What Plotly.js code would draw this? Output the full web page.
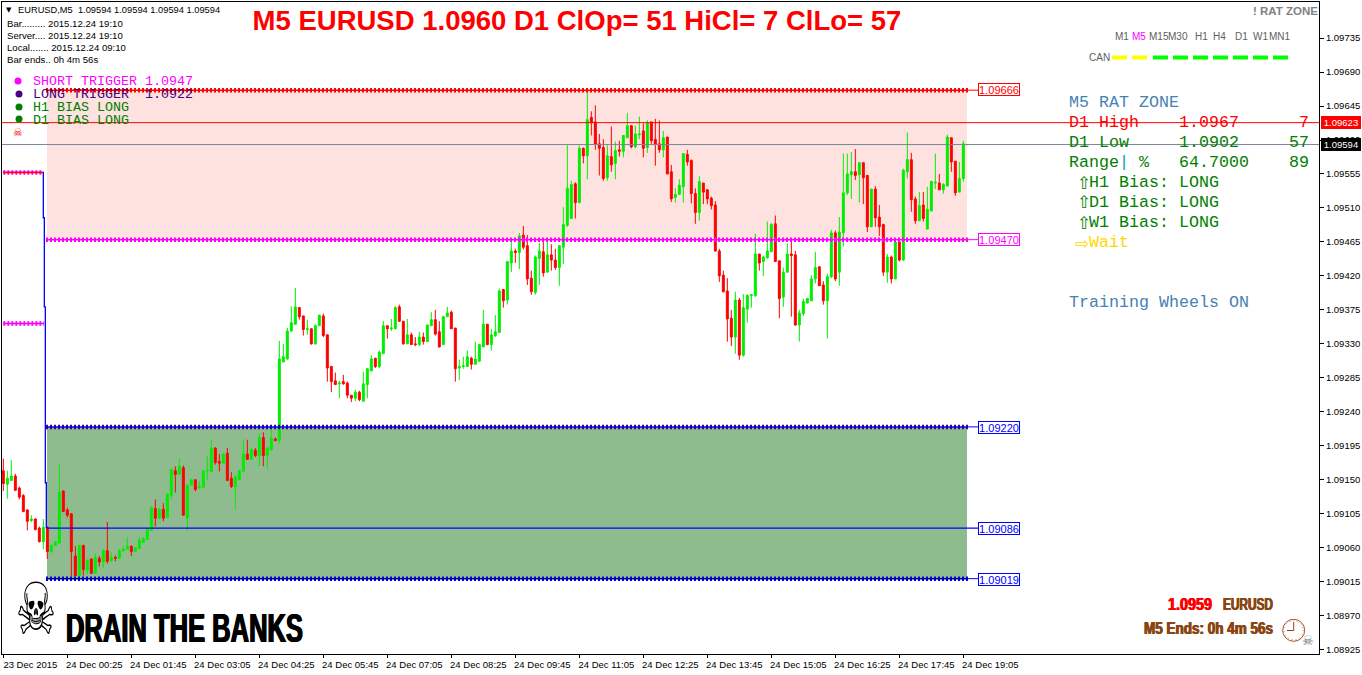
<!DOCTYPE html>
<html><head><meta charset="utf-8">
<script src="https://cdn.plot.ly/plotly-3.0.1.min.js"></script>
<style>html,body{margin:0;padding:0;background:#fff}</style>
</head><body><div id="chart" style="width:1362px;height:675px"></div>
<script>
const open_=[1.09162,1.09144,1.09149,1.09155,1.09139,1.09129,1.09110,1.09096,1.09098,1.09086,
1.09068,1.09087,1.09055,1.09063,1.09066,1.09135,1.09110,1.09105,1.09049,1.09023,
1.09063,1.09030,1.09045,1.09026,1.09046,1.09041,1.09056,1.09043,1.09047,1.09046,
1.09056,1.09058,1.09062,1.09055,1.09059,1.09067,1.09071,1.09083,1.09112,1.09099,
1.09111,1.09100,1.09129,1.09162,1.09157,1.09166,1.09100,1.09143,1.09150,1.09139,
1.09140,1.09162,1.09161,1.09192,1.09174,1.09172,1.09185,1.09152,1.09141,1.09150,
1.09161,1.09184,1.09177,1.09189,1.09182,1.09206,1.09182,1.09190,1.09204,1.09202,
1.09306,1.09310,1.09347,1.09356,1.09378,1.09367,1.09349,1.09350,1.09330,1.09354,
1.09367,1.09342,1.09300,1.09281,1.09277,1.09280,1.09278,1.09262,1.09258,1.09266,
1.09254,1.09276,1.09294,1.09311,1.09300,1.09317,1.09354,1.09350,1.09350,1.09379,
1.09360,1.09330,1.09342,1.09330,1.09329,1.09339,1.09333,1.09354,1.09362,1.09346,
1.09329,1.09366,1.09372,1.09351,1.09298,1.09300,1.09300,1.09311,1.09303,1.09307,
1.09326,1.09356,1.09329,1.09341,1.09345,1.09402,1.09388,1.09437,1.09453,1.09451,
1.09474,1.09460,1.09417,1.09398,1.09443,1.09452,1.09425,1.09448,1.09441,1.09431,
1.09458,1.09487,1.09496,1.09542,1.09517,1.09589,1.09579,1.09630,1.09624,1.09595,
1.09590,1.09550,1.09578,1.09569,1.09587,1.09585,1.09603,1.09619,1.09591,1.09607,
1.09612,1.09590,1.09624,1.09601,1.09595,1.09587,1.09604,1.09558,1.09524,1.09528,
1.09538,1.09581,1.09573,1.09529,1.09504,1.09543,1.09534,1.09523,1.09514,1.09453,
1.09421,1.09400,1.09364,1.09339,1.09388,1.09315,1.09376,1.09394,1.09394,1.09449,
1.09439,1.09444,1.09452,1.09489,1.09440,1.09392,1.09425,1.09449,1.09448,1.09355,
1.09370,1.09384,1.09387,1.09416,1.09432,1.09408,1.09387,1.09419,1.09477,1.09425,
1.09477,1.09530,1.09554,1.09558,1.09554,1.09570,1.09553,1.09485,1.09535,1.09498,
1.09488,1.09425,1.09445,1.09416,1.09465,1.09441,1.09558,1.09574,1.09522,1.09493,
1.09514,1.09482,1.09506,1.09543,1.09543,1.09534,1.09539,1.09603,1.09572,1.09531,1.09549,1.09594];
const high=[1.09178,1.09162,1.09176,1.09158,1.09141,1.09131,1.09111,1.09103,1.09099,1.09088,
1.09098,1.09087,1.09064,1.09068,1.09170,1.09136,1.09113,1.09105,1.09062,1.09063,
1.09064,1.09045,1.09046,1.09052,1.09049,1.09058,1.09094,1.09054,1.09050,1.09058,
1.09062,1.09074,1.09063,1.09060,1.09074,1.09074,1.09086,1.09115,1.09124,1.09113,
1.09119,1.09132,1.09164,1.09168,1.09178,1.09169,1.09143,1.09150,1.09150,1.09148,
1.09162,1.09182,1.09203,1.09193,1.09184,1.09185,1.09192,1.09160,1.09156,1.09162,
1.09203,1.09203,1.09192,1.09192,1.09211,1.09213,1.09193,1.09218,1.09206,1.09334,
1.09330,1.09351,1.09380,1.09404,1.09379,1.09367,1.09362,1.09350,1.09356,1.09368,
1.09370,1.09342,1.09301,1.09292,1.09281,1.09289,1.09280,1.09262,1.09269,1.09268,
1.09293,1.09298,1.09315,1.09311,1.09321,1.09360,1.09354,1.09363,1.09380,1.09382,
1.09360,1.09363,1.09345,1.09339,1.09346,1.09345,1.09355,1.09372,1.09375,1.09360,
1.09366,1.09379,1.09374,1.09351,1.09309,1.09313,1.09321,1.09313,1.09333,1.09329,
1.09375,1.09356,1.09350,1.09368,1.09403,1.09402,1.09439,1.09468,1.09456,1.09477,
1.09486,1.09474,1.09427,1.09447,1.09464,1.09465,1.09466,1.09462,1.09456,1.09460,
1.09511,1.09593,1.09546,1.09544,1.09593,1.09590,1.09664,1.09638,1.09646,1.09608,
1.09601,1.09593,1.09618,1.09598,1.09599,1.09606,1.09636,1.09619,1.09619,1.09631,
1.09622,1.09626,1.09624,1.09628,1.09626,1.09612,1.09604,1.09567,1.09536,1.09548,
1.09582,1.09587,1.09574,1.09536,1.09552,1.09543,1.09535,1.09525,1.09519,1.09456,
1.09427,1.09417,1.09375,1.09399,1.09391,1.09396,1.09396,1.09396,1.09476,1.09449,
1.09447,1.09492,1.09490,1.09500,1.09440,1.09431,1.09463,1.09466,1.09453,1.09375,
1.09390,1.09391,1.09421,1.09452,1.09433,1.09413,1.09423,1.09481,1.09480,1.09498,
1.09582,1.09582,1.09584,1.09588,1.09570,1.09570,1.09554,1.09535,1.09539,1.09514,
1.09489,1.09449,1.09447,1.09466,1.09466,1.09562,1.09610,1.09583,1.09525,1.09531,
1.09531,1.09538,1.09546,1.09582,1.09555,1.09543,1.09607,1.09603,1.09572,1.09571,1.09599,1.09594];
const low=[1.09135,1.09125,1.09149,1.09136,1.09124,1.09107,1.09083,1.09094,1.09083,1.09067,
1.09058,1.09045,1.09053,1.09063,1.09066,1.09107,1.09100,1.09022,1.09022,1.09022,
1.09023,1.09025,1.09026,1.09026,1.09035,1.09033,1.09039,1.09041,1.09042,1.09045,
1.09055,1.09058,1.09049,1.09055,1.09059,1.09067,1.09071,1.09083,1.09088,1.09098,
1.09095,1.09100,1.09124,1.09133,1.09157,1.09103,1.09082,1.09143,1.09135,1.09139,
1.09140,1.09150,1.09161,1.09170,1.09161,1.09172,1.09149,1.09139,1.09111,1.09150,
1.09161,1.09177,1.09177,1.09180,1.09168,1.09168,1.09165,1.09188,1.09201,1.09198,
1.09306,1.09309,1.09346,1.09356,1.09362,1.09341,1.09342,1.09329,1.09329,1.09354,
1.09339,1.09280,1.09266,1.09276,1.09258,1.09276,1.09258,1.09253,1.09254,1.09254,
1.09254,1.09258,1.09294,1.09298,1.09298,1.09317,1.09337,1.09347,1.09350,1.09359,
1.09329,1.09330,1.09329,1.09327,1.09327,1.09329,1.09333,1.09354,1.09341,1.09325,
1.09329,1.09366,1.09350,1.09280,1.09282,1.09297,1.09300,1.09296,1.09303,1.09307,
1.09326,1.09329,1.09321,1.09339,1.09345,1.09378,1.09382,1.09425,1.09437,1.09429,
1.09455,1.09408,1.09395,1.09395,1.09408,1.09419,1.09425,1.09427,1.09428,1.09407,
1.09436,1.09485,1.09496,1.09496,1.09517,1.09569,1.09548,1.09606,1.09587,1.09553,
1.09546,1.09546,1.09558,1.09548,1.09578,1.09577,1.09603,1.09589,1.09589,1.09601,
1.09577,1.09583,1.09595,1.09566,1.09583,1.09577,1.09555,1.09518,1.09517,1.09528,
1.09517,1.09566,1.09516,1.09489,1.09493,1.09515,1.09515,1.09508,1.09452,1.09412,
1.09398,1.09333,1.09327,1.09317,1.09309,1.09313,1.09358,1.09378,1.09392,1.09427,
1.09420,1.09443,1.09452,1.09439,1.09364,1.09379,1.09424,1.09366,1.09354,1.09333,
1.09367,1.09384,1.09387,1.09410,1.09407,1.09382,1.09337,1.09417,1.09413,1.09407,
1.09459,1.09527,1.09522,1.09547,1.09517,1.09515,1.09478,1.09485,1.09485,1.09473,
1.09420,1.09411,1.09410,1.09416,1.09439,1.09440,1.09549,1.09505,1.09489,1.09493,
1.09492,1.09482,1.09506,1.09535,1.09534,1.09529,1.09539,1.09558,1.09526,1.09531,1.09545,1.09594];
const close_=[1.09145,1.09152,1.09155,1.09136,1.09127,1.09108,1.09095,1.09098,1.09084,1.09068,
1.09087,1.09055,1.09063,1.09068,1.09133,1.09108,1.09103,1.09055,1.09023,1.09063,
1.09031,1.09043,1.09026,1.09047,1.09041,1.09056,1.09042,1.09047,1.09046,1.09056,
1.09058,1.09062,1.09055,1.09060,1.09070,1.09072,1.09084,1.09113,1.09099,1.09111,
1.09099,1.09131,1.09164,1.09157,1.09168,1.09103,1.09143,1.09150,1.09137,1.09141,
1.09162,1.09162,1.09192,1.09173,1.09172,1.09184,1.09149,1.09141,1.09153,1.09162,
1.09184,1.09177,1.09190,1.09182,1.09206,1.09182,1.09192,1.09205,1.09202,1.09310,
1.09313,1.09347,1.09358,1.09379,1.09366,1.09349,1.09350,1.09330,1.09354,1.09368,
1.09341,1.09298,1.09280,1.09276,1.09278,1.09277,1.09262,1.09258,1.09266,1.09256,
1.09277,1.09297,1.09310,1.09300,1.09319,1.09354,1.09350,1.09351,1.09378,1.09360,
1.09330,1.09342,1.09329,1.09329,1.09339,1.09333,1.09355,1.09362,1.09343,1.09326,
1.09366,1.09371,1.09350,1.09297,1.09300,1.09301,1.09313,1.09303,1.09310,1.09329,
1.09356,1.09329,1.09342,1.09346,1.09400,1.09387,1.09439,1.09453,1.09451,1.09473,
1.09458,1.09416,1.09399,1.09445,1.09453,1.09424,1.09448,1.09441,1.09431,1.09460,
1.09488,1.09536,1.09541,1.09517,1.09589,1.09579,1.09627,1.09623,1.09594,1.09589,
1.09549,1.09579,1.09567,1.09586,1.09585,1.09606,1.09619,1.09591,1.09608,1.09608,
1.09589,1.09623,1.09599,1.09594,1.09587,1.09603,1.09555,1.09522,1.09528,1.09540,
1.09582,1.09571,1.09529,1.09504,1.09545,1.09531,1.09522,1.09513,1.09453,1.09420,
1.09399,1.09363,1.09339,1.09388,1.09315,1.09378,1.09394,1.09395,1.09449,1.09437,
1.09445,1.09453,1.09488,1.09439,1.09390,1.09425,1.09449,1.09447,1.09355,1.09371,
1.09386,1.09390,1.09416,1.09431,1.09407,1.09387,1.09419,1.09477,1.09416,1.09478,
1.09530,1.09555,1.09558,1.09553,1.09570,1.09550,1.09485,1.09535,1.09497,1.09485,
1.09425,1.09445,1.09416,1.09465,1.09441,1.09560,1.09574,1.09521,1.09493,1.09513,
1.09496,1.09508,1.09545,1.09544,1.09534,1.09541,1.09604,1.09571,1.09530,1.09549,1.09595,1.09594];

const xTickBars=[0,16,32,48,64,80,96,112,128,144,160,176,192,208,224,240];
const xTickLabels=['23 Dec 2015','24 Dec 00:25','24 Dec 01:45','24 Dec 03:05','24 Dec 04:25','24 Dec 05:45','24 Dec 07:05','24 Dec 08:25','24 Dec 09:45','24 Dec 11:05','24 Dec 12:25','24 Dec 13:45','24 Dec 15:05','24 Dec 16:25','24 Dec 17:45','24 Dec 19:05'];
const yTicks=[1.09735,1.09690,1.09645,1.09600,1.09555,1.09510,1.09465,1.09420,1.09375,1.09330,1.09285,1.09240,1.09195,1.09150,1.09105,1.09060,1.09015,1.08970,1.08925];

const zoneShort=[1.09468,1.09666];
const zoneLong=[1.09019,1.09220];
const levelHigh=1.09666, levelShort=1.09468, levelLong=1.09220, levelLow=1.09019, levelMid=1.09086;
const dayHigh=1.09623, lastPrice=1.09594;
const priorA=1.09557, priorB=1.09357;
const stepBars=[0,10,10,10.25,10.25,10.5,10.5,10.75,10.75,11,11,243.8];
const stepPrice=[1.09557,1.09557,1.09497,1.09497,1.09379,1.09379,1.09146,1.09146,1.09087,1.09087,1.09086,1.09086];

const bars=open_.map((_,i)=>i);
const L=2,T=2,R=1319,B=654;
const W=R-L,H=B-T;
const px=x=>(x-L)/W, py=y=>(B-y)/H;
const barOf=x=>(x-3.33)/4;
const xStart=barOf(46), xEnd=barOf(968), xConn=barOf(979), xRectA=barOf(47), xRectB=barOf(967);
const xLeft=barOf(L), xRight=barOf(R);

function dotted(x0,x1,y,col,lineCol,lw){
  return [
   {type:'scatter',mode:'lines',x:[x0,x1],y:[y,y],line:{color:col,width:4.5,dash:'2px,2px'},hoverinfo:'skip'},
   {type:'scatter',mode:'lines',x:[x0,x1],y:[y,y],line:{color:lineCol||col,width:lw||1.5},hoverinfo:'skip'}
  ];
}
function thin(x0,x1,y,col){return {type:'scatter',mode:'lines',x:[x0,x1],y:[y,y],line:{color:col,width:1},hoverinfo:'skip'};}

const traces=[
 {type:'candlestick',x:bars,open:open_,high:high,low:low,close:close_,
  increasing:{line:{color:'#00ee00',width:1},fillcolor:'#00ee00'},
  decreasing:{line:{color:'#ff0000',width:1},fillcolor:'#ff0000'},whiskerwidth:0,hoverinfo:'skip'},
 ...dotted(0,barOf(44),priorB,'#ff00ff'),
 {type:'scatter',mode:'lines',x:stepBars,y:stepPrice,line:{color:'#0000ff',width:1.3},hoverinfo:'skip'},
 ...dotted(0,barOf(43),priorA,'#ff00ff','#ff0000',1.5),
 ...dotted(xStart,xEnd,levelHigh,'#ff0000'),
 thin(xEnd,xConn,levelHigh,'#ff0000'),
 ...dotted(xStart,xEnd,levelShort,'#ff00ff'),
 thin(xEnd,xConn,levelShort,'#ff00ff'),
 ...dotted(xStart,xEnd,levelLong,'#4b0082','#0000ff'),
 thin(xEnd,xConn,levelLong,'#0000ff'),
 ...dotted(xStart,xEnd,levelLow,'#0000ff','#00008b'),
 thin(xEnd,xConn,levelLow,'#0000ff'),
 thin(xLeft,xRight,dayHigh,'#ff0000'),
 thin(xLeft,xRight,lastPrice,'#778899')
];

const ui='"Liberation Sans",Arial,sans-serif', mono='"Liberation Mono",monospace', deja='"DejaVu Sans",sans-serif';
function T_(text,x,y,o={}){
  const a={text,x:px(x),y:py(y),xref:'paper',yref:'paper',xanchor:o.a||'left',align:o.a||'left',yanchor:'middle',showarrow:false,borderpad:0,borderwidth:0,
    font:{family:o.f||ui,size:o.s||10,color:o.c||'#000',weight:o.w,shadow:o.sh}};
  if(o.box) a.width=o.box;
  return a;
}
function tag(text,y,col,xc){
  return {text,x:px(xc),y:py(y),xref:'paper',yref:'paper',xanchor:'center',yanchor:'middle',showarrow:false,
    bgcolor:'#fff',bordercolor:col,borderwidth:1,borderpad:0,width:40,height:11,font:{family:ui,size:11,color:col}};
}
function flag(text,y,bg){
  return {text,x:px(1341),y:py(y),xref:'paper',yref:'paper',xanchor:'center',yanchor:'middle',showarrow:false,
    bgcolor:bg,borderpad:0,borderwidth:0,width:40,height:13,font:{family:ui,size:9.5,color:'#fff'}};
}
const heavy='1px 0 0 #000,-1px 0 0 #000';
const brownS='0.6px 0 0 #8b4513,-0.6px 0 0 #8b4513';
const redS='0.6px 0 0 #f00,-0.6px 0 0 #f00';
const annotations=[
 T_('▼',6,10,{s:7,f:deja}),
 T_('EURUSD,M5&nbsp;&nbsp;1.09594 1.09594 1.09594 1.09594',18,10.5,{s:9.3}),
 T_('Bar......... 2015.12.24 19:10',7,23,{s:9.6}),
 T_('Server.... 2015.12.24 19:10',7,35.5,{s:9.6}),
 T_('Local....... 2015.12.24 09:10',7,47.5,{s:9.6}),
 T_('Bar ends.. 0h 4m 56s',7,59.5,{s:9.6}),
 T_('SHORT TRIGGER 1.0947',33,82,{f:mono,s:13.33,c:'#ff00ff'}),
 T_('LONG TRIGGER&nbsp;&nbsp;1.0922',33,95,{f:mono,s:13.33,c:'#4b0082'}),
 T_('H1 BIAS LONG',33,108,{f:mono,s:13.33,c:'#008000'}),
 T_('D1 BIAS LONG',33,121,{f:mono,s:13.33,c:'#008000'}),
 T_('☠',18,133,{f:deja,s:11,c:'#ff0000',a:'center'}),
 T_('☠',36,609,{f:deja,s:72,c:'#000',a:'center',box:44}),
 T_('DRAIN THE BANKS',66,628,{s:40,w:700,sh:heavy,box:240}),
 T_('! RAT ZONE',1318,11,{s:11.5,w:700,c:'#808080',a:'right'}),
 T_('M1',1121.5,36,{s:10,c:'#606060',a:'center'}),
 T_('M5',1138.5,36,{s:10,c:'#ff00ff',a:'center'}),
 T_('M15',1159,36,{s:10,c:'#606060',a:'center'}),
 T_('M30',1178,36,{s:10,c:'#606060',a:'center'}),
 T_('H1',1201,36,{s:10,c:'#606060',a:'center'}),
 T_('H4',1219,36,{s:10,c:'#606060',a:'center'}),
 T_('D1',1241,36,{s:10,c:'#606060',a:'center'}),
 T_('W1',1260.5,36,{s:10,c:'#606060',a:'center'}),
 T_('MN1',1280,36,{s:10,c:'#606060',a:'center'}),
 T_('CAN',1089,58,{s:10,c:'#606060'}),
 T_('M5 RAT ZONE',1069,102.5,{f:mono,s:16.67,c:'#4682b4'}),
 T_('D1 High&nbsp;&nbsp;&nbsp;&nbsp;1.0967&nbsp;&nbsp;&nbsp;&nbsp;&nbsp;&nbsp;7',1069,122.5,{f:mono,s:16.67,c:'#ff0000'}),
 T_('D1 Low&nbsp;&nbsp;&nbsp;&nbsp;&nbsp;1.0902&nbsp;&nbsp;&nbsp;&nbsp;&nbsp;57',1069,142.5,{f:mono,s:16.67,c:'#008000'}),
 T_('Range<span style="color:#00a0c0">|</span> %&nbsp;&nbsp;&nbsp;64.7000&nbsp;&nbsp;&nbsp;&nbsp;89',1069,162.5,{f:mono,s:16.67,c:'#008000'}),
 T_('⇧',1077,182.5,{f:deja,s:17,c:'#008000'}),
 T_('H1 Bias: LONG',1089,182.5,{f:mono,s:16.67,c:'#008000'}),
 T_('⇧',1077,202.5,{f:deja,s:17,c:'#008000'}),
 T_('D1 Bias: LONG',1089,202.5,{f:mono,s:16.67,c:'#008000'}),
 T_('⇧',1077,222.5,{f:deja,s:17,c:'#008000'}),
 T_('W1 Bias: LONG',1089,222.5,{f:mono,s:16.67,c:'#008000'}),
 T_('⇨',1075,242.5,{f:deja,s:17,c:'#ffd700'}),
 T_('Wait',1089,242.5,{f:mono,s:16.67,c:'#ffd700'}),
 T_('Training Wheels ON',1069,302.5,{f:mono,s:16.67,c:'#4682b4'}),
 T_('1.0959',1168,604,{s:17,w:700,c:'#ff0000',sh:redS,box:46}),
 T_('EURUSD',1223,604,{s:17,w:700,c:'#8b4513',sh:brownS,box:52}),
 T_('M5 Ends: 0h 4m 56s',1144,628,{s:17,w:700,c:'#8b4513',sh:brownS,box:131}),
 T_('☠',1308,640,{f:deja,s:13,c:'#707070',a:'center'}),
 tag('1.09666',89.5,'#ff0000',999),
 tag('1.09470',239.5,'#ff00ff',999),
 tag('1.09220',427.5,'#0000ff',999),
 tag('1.09086',528.5,'#0000ff',999),
 tag('1.09019',579.5,'#0000ff',999),
 flag('1.09623',122.5,'#ff0000'),
 flag('1.09594',144.5,'#000000')
];

const dashX=[1112,1132,1153,1173,1193,1213,1233,1253,1273];
const dashCol=['#ffff00','#ffff00','#00ff00','#00ff00','#00ff00','#00ff00','#00ff00','#00ff00','#00ff00'];
const shapes=[
 {type:'rect',xref:'x',yref:'y',x0:xRectA,x1:xRectB,y0:zoneShort[0],y1:zoneShort[1],fillcolor:'#fee2df',line:{width:0},layer:'below'},
 {type:'rect',xref:'x',yref:'y',x0:xRectA,x1:xRectB,y0:zoneLong[0],y1:zoneLong[1],fillcolor:'#8fbc8f',line:{width:0},layer:'below'}
];
function circle(cx,cy,r,fill,line,lw,dash){
 return {type:'circle',xref:'paper',yref:'paper',x0:px(cx-r),x1:px(cx+r),y0:py(cy+r),y1:py(cy-r),fillcolor:fill,line:{color:line,width:lw||0,dash:dash||'solid'}};
}
function seg(x0,y0,x1,y1,c,w,dash){
 return {type:'line',xref:'paper',yref:'paper',x0:px(x0),x1:px(x1),y0:py(y0),y1:py(y1),line:{color:c,width:w,dash:dash||'solid'}};
}
shapes.push(circle(18,81,3.5,'#ff00ff'),circle(19,94,3.5,'#4b0082'),circle(19,107,3.5,'#008000'),circle(19,119,3.5,'#008000'));
dashX.forEach((x,i)=>shapes.push({type:'rect',xref:'paper',yref:'paper',x0:px(x),x1:px(x+15),y0:py(59.5),y1:py(55.5),fillcolor:dashCol[i],line:{width:0}}));
shapes.push(circle(1293.7,630.3,11,'#fff','#a0522d',1));
shapes.push(circle(1293.7,630.3,9.5,'rgba(0,0,0,0)','#cd853f',1,'1px,3px'));
shapes.push(seg(1293.7,630.5,1293.7,622,'#8b4513',1),seg(1293.7,630.5,1287,630.5,'#8b4513',1));

const layout={
 width:1362,height:675,autosize:false,
 margin:{l:L,t:T,r:1362-R,b:675-B,pad:0},
 paper_bgcolor:'#fff',plot_bgcolor:'#fff',showlegend:false,hovermode:false,dragmode:false,
 title:{text:'M5 EURUSD 1.0960 D1 ClOp= 51 HiCl= 7 ClLo= 57',xref:'container',yref:'container',x:577/1362,y:1-20/675,xanchor:'center',yanchor:'middle',
   font:{family:ui,size:27.5,color:'#ff0000',weight:700}},
 xaxis:{range:[xLeft,xRight],rangeslider:{visible:false},tickmode:'array',tickvals:xTickBars,ticktext:xTickLabels,
   ticks:'outside',ticklen:3,tickcolor:'#000',tickwidth:1,showgrid:false,zeroline:false,showline:true,linecolor:'#000',linewidth:1,mirror:true,
   ticklabelshift:27,ticklabelstandoff:-1,tickfont:{family:ui,size:9.5,color:'#000'},fixedrange:true,tickangle:0},
 yaxis:{range:[1.089192,1.097828],side:'right',tickmode:'array',tickvals:yTicks,ticktext:yTicks.map(v=>v.toFixed(5)),
   ticks:'outside',ticklen:4,tickcolor:'#000',tickwidth:1,showgrid:false,zeroline:false,showline:true,linecolor:'#000',linewidth:1,mirror:true,
   tickfont:{family:ui,size:9.5,color:'#000'},fixedrange:true},
 annotations,shapes
};
const condensed={'DRAIN THE BANKS':237,'M5 Ends: 0h 4m 56s':129,'1.0959':44,'EURUSD':50};
Plotly.newPlot('chart',traces,layout,{displayModeBar:false,staticPlot:true}).then(()=>{
  document.querySelectorAll('.annotation-text').forEach(t=>{
    const s=t.textContent;
    let len=condensed[s];
    if(s==='☠' && parseFloat(getComputedStyle(t).fontSize)>50) len=41;
    if(len){t.setAttribute('textLength',len);t.setAttribute('lengthAdjust','spacingAndGlyphs');}
  });
});
</script></body></html>
